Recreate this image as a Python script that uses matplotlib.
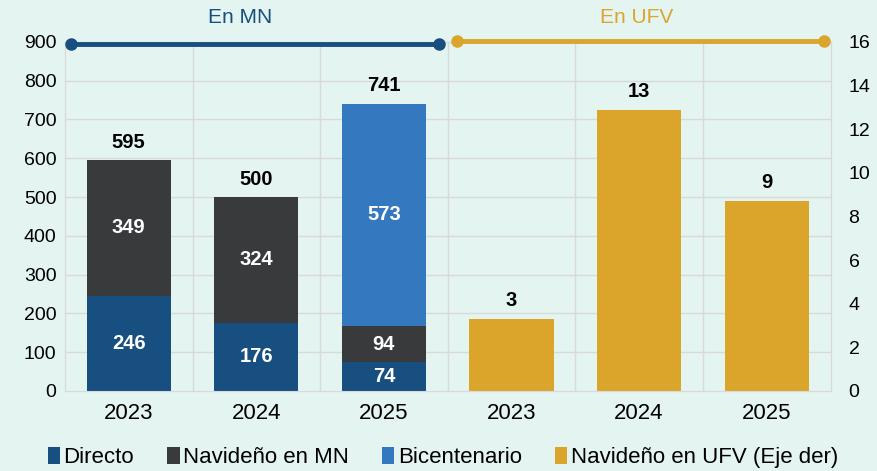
import matplotlib.pyplot as plt
import numpy as np

plt.rcParams['font.family'] = ['Liberation Sans', 'DejaVu Sans']
narrow = ['Liberation Sans Narrow', 'Liberation Sans']

years = ["2023", "2024", "2025", "2023", "2024", "2025"]
directo = [246, 176, 74]
navideno_mn = [349, 324, 94]
bicentenario = [0, 0, 573]
navideno_ufv = [3.3, 12.9, 8.7]
ufv_labels = ["3", "13", "9"]

c_dir = "#174f80"
c_nav = "#383a3c"
c_bic = "#3478c0"
c_ufv = "#daa52a"
bg = "#e4f5f1"

fig = plt.figure(figsize=(8.77, 4.71), dpi=100, facecolor=bg)
ax = fig.add_axes([0.074, 0.170, 0.873, 0.741])
ax2 = ax.twinx()
ax.set_zorder(2)
ax.patch.set_visible(False)
ax2.set_facecolor("white")

w = 0.66
x_mn = np.arange(3)
x_ufv = np.arange(3, 6)
dirv = np.array(directo)
navv = np.array(navideno_mn)
bicv = np.array(bicentenario)

ax.bar(x_mn, dirv, w, color=c_dir, label="Directo")
ax.bar(x_mn, navv, w, bottom=dirv, color=c_nav, label="Navideño en MN")
ax.bar(x_mn, bicv, w, bottom=dirv + navv, color=c_bic, label="Bicentenario")
ax2.bar(x_ufv, navideno_ufv, w, color=c_ufv, label="Navideño en UFV (Eje der)")

lab = dict(fontsize=14.5, fontweight="bold", ha="center", va="center", color="white")
for i in range(3):
    ax.text(x_mn[i], dirv[i] / 2, str(dirv[i]), **lab)
    ax.text(x_mn[i], dirv[i] + navv[i] / 2, str(navv[i]), **lab)
    if bicv[i] > 0:
        ax.text(x_mn[i], dirv[i] + navv[i] + bicv[i] / 2, str(bicv[i]), **lab)
    tot = dirv[i] + navv[i] + bicv[i]
    ax.text(x_mn[i], tot + 22, str(tot), fontsize=14.5, fontweight="bold",
            ha="center", va="bottom", color="black")
for i in range(3):
    ax2.text(x_ufv[i], navideno_ufv[i] + 0.4, ufv_labels[i], fontsize=14.5,
             fontweight="bold", ha="center", va="bottom", color="black")

ax.set_xlim(-0.5, 5.5)
ax.set_ylim(0, 900)
ax2.set_ylim(0, 16)
ax.set_yticks(range(0, 901, 100))
ax2.set_yticks(range(0, 17, 2))
ax.set_xticks(range(6))
ax.set_xticklabels(years, family=narrow, fontsize=16)
for a in (ax, ax2):
    a.tick_params(length=0, labelsize=14, pad=6)
    for s in a.spines.values():
        s.set_color("#d9d9d9")
ax.tick_params(axis="x", pad=9, labelsize=16)
ax2.tick_params(axis="y", pad=13)

for yv in range(100, 901, 100):
    ax2.axhline(yv * 16 / 900, color="#d9d9d9", lw=1, zorder=0)
for xv in np.arange(0.5, 5.5, 1):
    ax2.axvline(xv, color="#d9d9d9", lw=1, zorder=0)

ax.plot([-0.45, 2.43], [895, 895], color=c_dir, lw=3.5, marker="o", ms=8,
        clip_on=False, zorder=5)
ax.plot([2.57, 5.45], [903, 903], color=c_ufv, lw=3.5, marker="o", ms=8,
        clip_on=False, zorder=5)
ax.text(0.87, 1.07, "En MN", transform=ax.get_xaxis_transform(), fontsize=15,
        color=c_dir, ha="center", va="center")
ax.text(3.98, 1.07, "En UFV", transform=ax.get_xaxis_transform(), fontsize=15,
        color=c_ufv, ha="center", va="center")

h1, l1 = ax.get_legend_handles_labels()
h2, l2 = ax2.get_legend_handles_labels()
fig.legend(h1 + h2, l1 + l2, loc="center", bbox_to_anchor=(0.505, 0.028), ncol=4,
           frameon=False, prop={'family': narrow, 'size': 16}, handlelength=0.55,
           handleheight=0.75, handletextpad=0.15, columnspacing=1.5)

fig.savefig("out.png", dpi=100, facecolor=bg)
